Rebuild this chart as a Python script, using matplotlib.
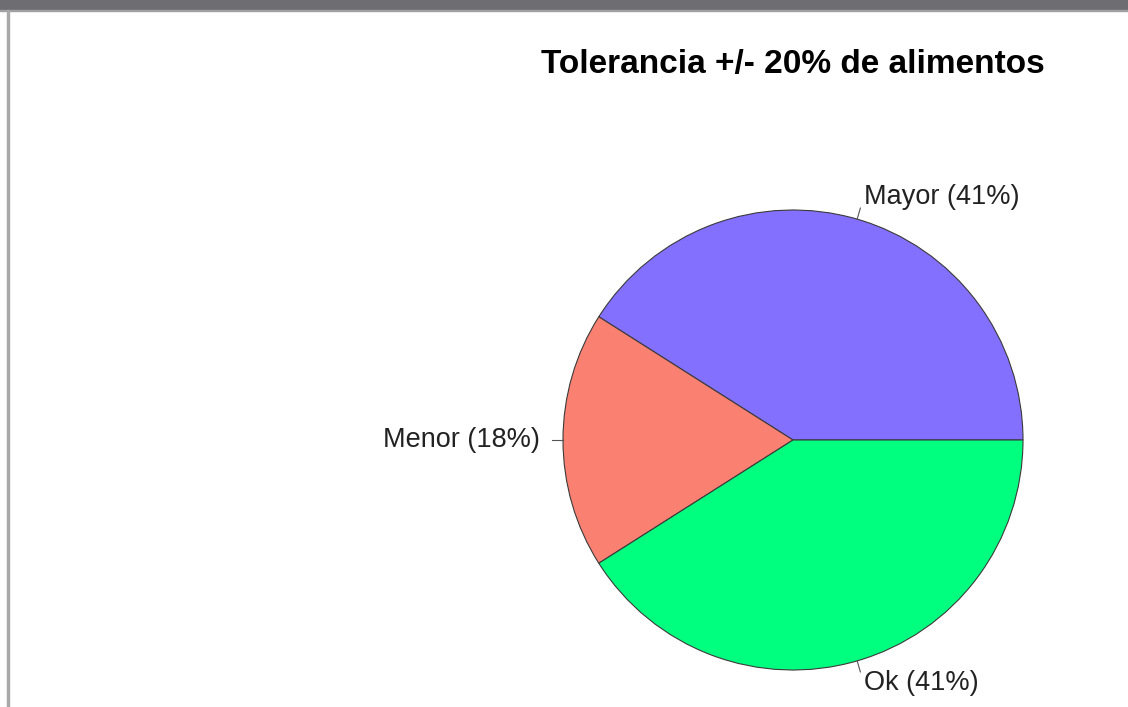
import numpy as np
import matplotlib.pyplot as plt
from matplotlib.patches import Rectangle

# data
categories = ['Mayor', 'Menor', 'Ok']
values = [41, 18, 41]
colors = ['#8470FF', '#FA8072', '#00FF7F']
title = 'Tolerancia +/- 20% de alimentos'

W, H = 1128, 707
fig = plt.figure(figsize=(W / 100, H / 100), dpi=100)
plt.rcParams['font.family'] = ['Liberation Sans', 'DejaVu Sans']

ax = fig.add_axes([0, 0, 1, 1])

cx, cy, r = 793, H - 440, 230
wedges, _ = ax.pie(values, colors=colors, startangle=0, counterclock=True,
                   center=(cx, cy), radius=r, frame=True,
                   wedgeprops=dict(edgecolor='#3a3a3a', linewidth=0.8))
ax.set_xlim(0, W)
ax.set_ylim(0, H)
ax.set_aspect('equal')
ax.axis('off')

total = sum(values)
for w, cat, v in zip(wedges, categories, values):
    a = np.deg2rad((w.theta1 + w.theta2) / 2)
    c, s = np.cos(a), np.sin(a)
    ax.plot([cx + r * c, cx + 1.05 * r * c], [cy + r * s, cy + 1.05 * r * s],
            color='#555555', lw=0.8)
    ax.text(cx + 1.1 * r * c, cy + 1.1 * r * s,
            f'{cat} ({round(100 * v / total)}%)',
            ha='left' if c > 0 else 'right', va='center',
            fontsize=19.5, color='#222222')

ax.text(cx, H - 65, title, ha='center', va='center', fontsize=24,
        fontweight='bold', color='black')

# window chrome
fig.patches.append(Rectangle((0, 1 - 10 / H), 1, 10 / H, transform=fig.transFigure,
                             color='#6d6d72', zorder=5))
fig.patches.append(Rectangle((0, 1 - 11 / H), 1, 1 / H, transform=fig.transFigure,
                             color='#a0a0a0', zorder=5))
fig.patches.append(Rectangle((7 / W, 0), 1.5 / W, 1 - 10 / H, transform=fig.transFigure,
                             color='#a8a8a8', zorder=5))

fig.savefig('out.png', dpi=100)
